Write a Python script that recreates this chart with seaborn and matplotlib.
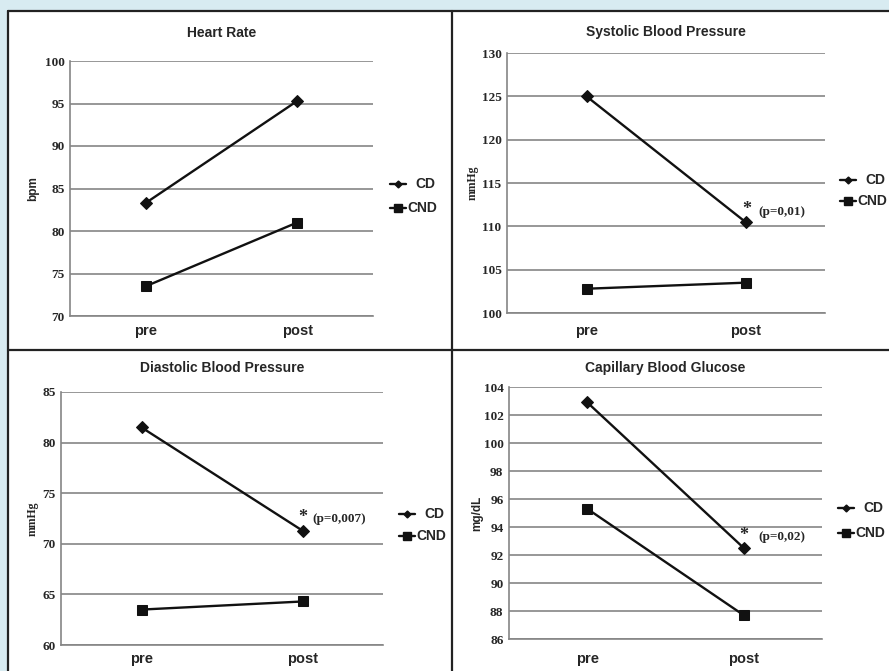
import pandas as pd
import matplotlib.pyplot as plt
import seaborn as sns
from matplotlib.lines import Line2D
from matplotlib.patches import Rectangle

# ---- data ----
times = ["pre", "post"]
groups = ["CD", "CND"]

hr_cd = [83.3, 95.3]
hr_cnd = [73.5, 81.0]
sbp_cd = [125.0, 110.5]
sbp_cnd = [102.8, 103.5]
dbp_cd = [81.5, 71.3]
dbp_cnd = [63.5, 64.3]
glu_cd = [102.9, 92.5]
glu_cnd = [95.3, 87.7]

titles = ["Heart Rate", "Systolic Blood Pressure", "Diastolic Blood Pressure", "Capillary Blood Glucose"]
ylabels = ["bpm", "mmHg", "mmHg", "mg/dL"]
pvalues = [None, "(p=0,01)", "(p=0,007)", "(p=0,02)"]
yranges = [(70, 100, 5), (100, 130, 5), (60, 85, 5), (86, 104, 2)]

series = [(hr_cd, hr_cnd), (sbp_cd, sbp_cnd), (dbp_cd, dbp_cnd), (glu_cd, glu_cnd)]

W, H = 889, 671
SANS = "Liberation Sans"
SERIF = "Liberation Serif"

sns.set_theme(style="white")
plt.rcParams["font.family"] = [SANS, "DejaVu Sans"]

fig = plt.figure(figsize=(W / 100, H / 100), dpi=100)
fig.patch.set_facecolor("#d8ebf1")


def fx(px):
    return px / W


def fy(py):
    return 1 - py / H


# white panel area and black panel borders
fig.add_artist(Rectangle((fx(8), 0), 1 - fx(8), fy(11), transform=fig.transFigure,
                         facecolor="white", edgecolor="none", zorder=0))
for x in (8, 452):
    fig.add_artist(Line2D([fx(x), fx(x)], [0, fy(11)], transform=fig.transFigure,
                          color="#222222", lw=1.6))
for y in (11, 350):
    fig.add_artist(Line2D([fx(8), 1], [fy(y), fy(y)], transform=fig.transFigure,
                          color="#222222", lw=1.6))

# axes boxes in pixels: left, right, top, bottom
boxes = [(70, 373, 61, 316), (507, 825, 53, 313), (61, 383, 392, 645), (509, 822, 387, 639)]
title_y = [33, 32, 368, 368]
ylabel_x = [33, 473, 33, 477]
ylabel_font = [SANS, SERIF, SERIF, SANS]
legend_xy = [(390, 184, 208), (840, 180, 201), (399, 514, 536), (838, 508, 533)]
star_xy = [None, (747, 212, 758), (303, 519, 312), (744, 537, 758)]
xtick_pad = [6, 8, 5, 9]

for i in range(4):
    l, r, t, b = boxes[i]
    ax = fig.add_axes([fx(l), fy(b), fx(r) - fx(l), fy(t) - fy(b)])
    ax.set_facecolor("none")
    cd, cnd = series[i]
    df = pd.DataFrame({
        "time": times * 2,
        "value": cd + cnd,
        "group": [groups[0]] * 2 + [groups[1]] * 2,
    })
    sns.lineplot(data=df, x="time", y="value", hue="group", style="group",
                 palette={"CD": "#111111", "CND": "#111111"},
                 markers={"CD": "D", "CND": "s"}, dashes=False,
                 markersize=7.5, linewidth=1.7, markeredgecolor="#111111",
                 sort=False, legend=False, ax=ax, zorder=3)
    # smaller diamond than square
    for ln in ax.lines:
        if ln.get_marker() == "D":
            ln.set_markersize(6)

    lo, hi, step = yranges[i]
    ax.set_ylim(lo, hi)
    ax.set_yticks(list(range(lo, hi + 1, step)))
    ax.set_xlim(-0.5, 1.5)
    ax.grid(axis="y", color="#858585", lw=1.2)
    ax.set_axisbelow(True)
    for s in ("top", "right"):
        ax.spines[s].set_visible(False)
    for s in ("left", "bottom"):
        ax.spines[s].set_color("#858585")
        ax.spines[s].set_linewidth(1.2)
    ax.tick_params(axis="both", length=0)
    ax.tick_params(axis="y", pad=4)
    ax.tick_params(axis="x", pad=xtick_pad[i])
    for lab in ax.get_yticklabels():
        lab.set_fontfamily(SERIF)
        lab.set_fontweight("bold")
        lab.set_fontsize(9.5)
    for lab in ax.get_xticklabels():
        lab.set_fontfamily(SANS)
        lab.set_fontweight("bold")
        lab.set_fontsize(10.5)
    ax.set_xlabel("")
    ax.set_ylabel("")

    # panel title and y label in figure pixels
    fig.text(fx((l + r) / 2), fy(title_y[i]), titles[i], ha="center", va="center",
             fontsize=10, fontweight="bold", family=SANS)
    fig.text(fx(ylabel_x[i]), fy((t + b) / 2), ylabels[i], ha="center", va="center",
             rotation=90, fontsize=8.5, fontweight="bold", family=ylabel_font[i])

    # legend, drawn by hand to mimic the short-line style
    lx, y1, y2 = legend_xy[i]
    for yy, mk, ms, name in ((y1, "D", 3.5, "CD"), (y2, "s", 5.5, "CND")):
        fig.add_artist(Line2D([fx(lx), fx(lx + 16)], [fy(yy), fy(yy)], transform=fig.transFigure,
                              color="#111111", lw=1.7))
        fig.add_artist(Line2D([fx(lx + 8)], [fy(yy)], transform=fig.transFigure,
                              color="#111111", marker=mk, markersize=ms, lw=0))
        fig.text(fx(lx + 25 if name == "CD" else lx + 17), fy(yy), name, ha="left", va="center",
                 fontsize=10, fontweight="bold", family=SANS)

    # significance note
    if star_xy[i] is not None:
        sx, sy, px = star_xy[i]
        fig.text(fx(sx), fy(sy - 2), "*", ha="center", va="center", fontsize=13,
                 fontweight="bold", family=SERIF)
        fig.text(fx(px), fy(sy), pvalues[i], ha="left", va="center", fontsize=9.5,
                 fontweight="bold", family=SERIF)

fig.savefig("out.png", dpi=100, facecolor=fig.get_facecolor())
